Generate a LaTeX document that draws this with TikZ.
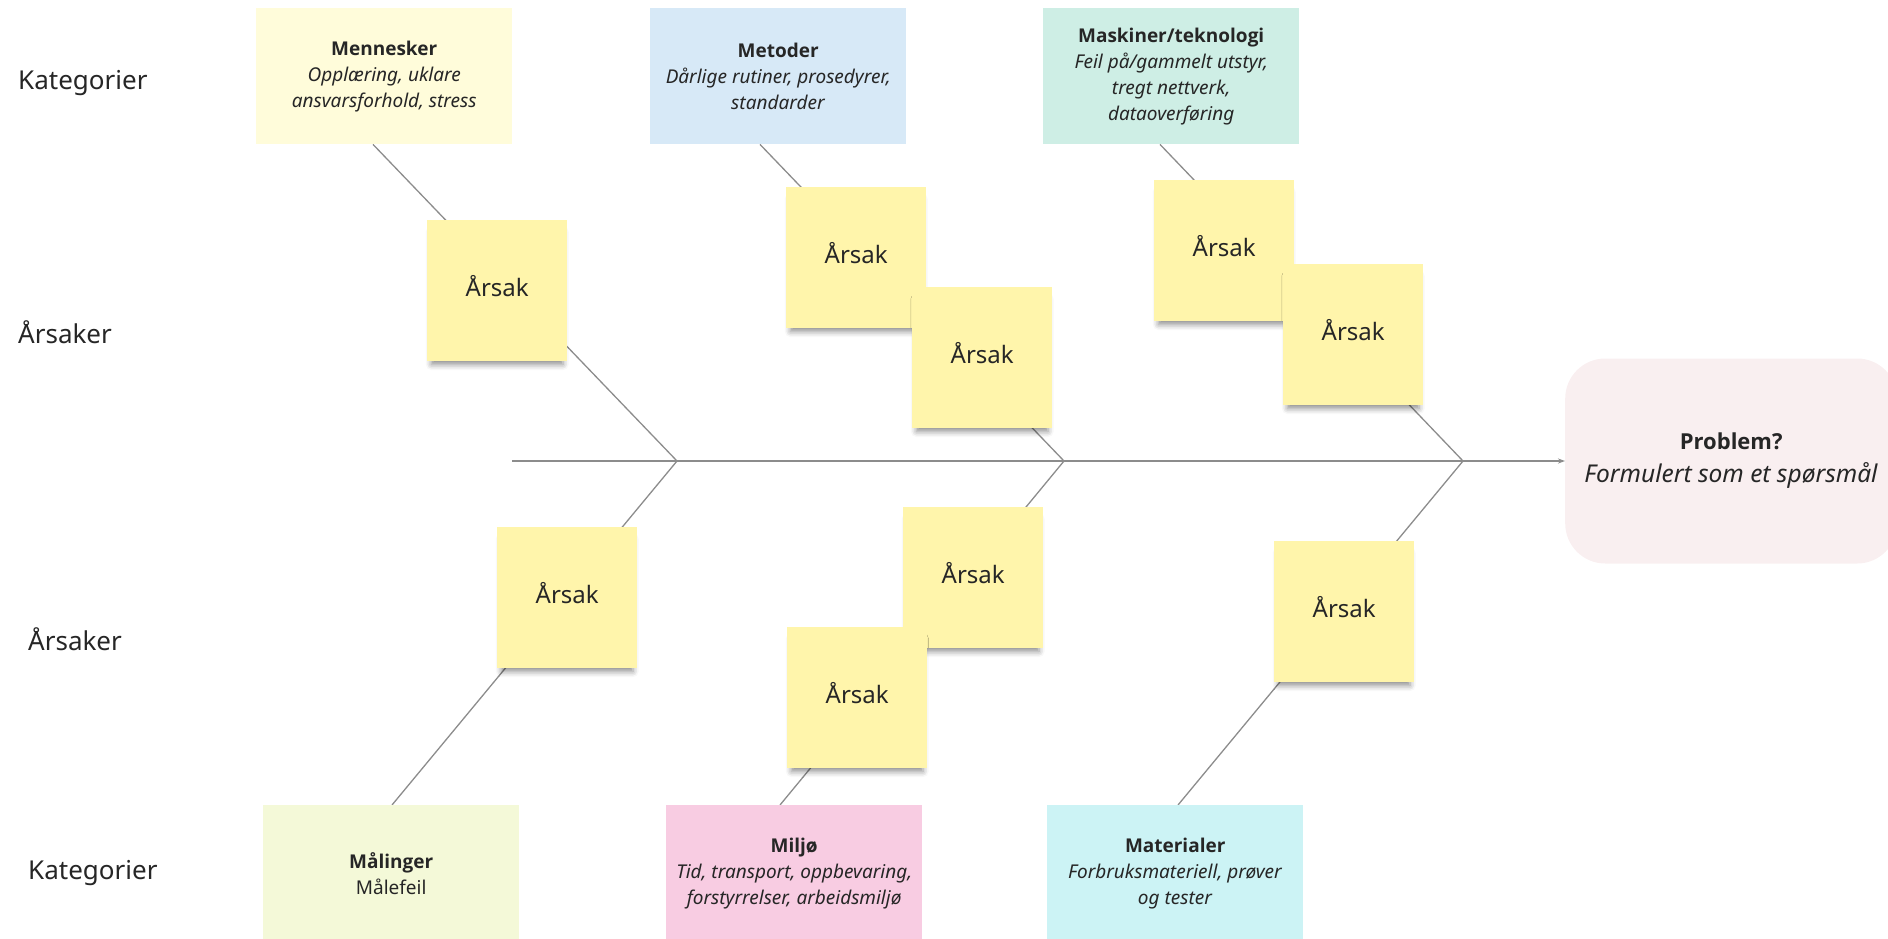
\documentclass[tikz,border=0pt]{standalone}
\usepackage{fontspec}
\setmainfont{Noto Sans}
\newfontfamily\boldfam{Open Sans}
\newcommand{\hd}[1]{{\boldfam\bfseries #1}}
\usetikzlibrary{shadows.blur,arrows.meta,calc}
\definecolor{txt}{HTML}{262626}
\definecolor{bone}{HTML}{8C8C8C}
\definecolor{stick}{HTML}{FFF5AB}
\definecolor{cMen}{HTML}{FFFCDA}
\definecolor{cMet}{HTML}{D7E9F7}
\definecolor{cMas}{HTML}{CEEEE5}
\definecolor{cMal}{HTML}{F4F9D8}
\definecolor{cMil}{HTML}{F8CCE2}
\definecolor{cMat}{HTML}{CCF3F5}
\definecolor{cProb}{HTML}{F9EFF0}
\pgfdeclarelayer{bg}
\pgfsetlayers{bg,main}
\tikzset{
  catbox/.style={anchor=north west, minimum width=256pt, minimum height=136pt, inner sep=0pt,
    align=center, text=txt, font=\fontsize{19}{26}\selectfont},
  sticky/.style={anchor=north west, minimum width=140pt, minimum height=141pt, inner sep=0pt,
    fill=stick, text=txt, font=\fontsize{24}{28}\selectfont, text depth=9pt,
    blur shadow={shadow xshift=0pt, shadow yshift=-8pt, shadow scale=0.94, shadow blur radius=6pt, shadow opacity=45}},
  sidelabel/.style={anchor=west, inner sep=0pt, text=txt, font=\fontsize{26}{30}\selectfont},
  bonestyle/.style={draw=bone, line width=1.3pt},
}
\begin{document}
\begin{tikzpicture}[x=1pt,y=-1pt]
\useasboundingbox (0,0) rectangle (1888,938);

% side labels
\node[sidelabel] (lk1) at (18,83) {Kategorier};
\node[sidelabel] (la1) at (18,332) {Årsaker};
\node[sidelabel] (la2) at (28,639) {Årsaker};
\node[sidelabel] (lk2) at (28,873) {Kategorier};

% junctions and spine start
\coordinate (S) at (512,461);
\coordinate (J1) at (677,461);
\coordinate (J2) at (1064,461);
\coordinate (J3) at (1463,461);

% problem
\node[anchor=west, minimum width=332pt, minimum height=205pt, fill=cProb, rounded corners=40pt,
  align=center, text=txt, inner sep=0pt, font=\fontsize{22}{33}\selectfont] (prob) at (1565,461)
  {\hd{Problem?}\\\fontsize{24.5}{33}\selectfont\textit{Formulert som et spørsmål}};

% stickies
\node[sticky] (s1) at (427,220) {Årsak};
\node[sticky] (s2) at (786,187) {Årsak};
\node[sticky] (s3) at (912,287) {Årsak};
\node[sticky] (s4) at (1154,180) {Årsak};
\node[sticky] (s5) at (1283,264) {Årsak};
\node[sticky] (s6) at (497,527) {Årsak};
\node[sticky] (s7) at (903,507) {Årsak};
\node[sticky] (s8) at (787,627) {Årsak};
\node[sticky] (s9) at (1274,541) {Årsak};

% category boxes
\node[catbox, fill=cMen] (men) at (256,8) {\hd{Mennesker}\\\textit{Opplæring, uklare}\\\textit{ansvarsforhold, stress}};
\node[catbox, fill=cMet] (met) at (650,8) {\hd{Metoder}\\\textit{Dårlige rutiner, prosedyrer,}\\\textit{standarder}};
\node[catbox, fill=cMas] (mas) at (1043,8) {\hd{Maskiner/teknologi}\\\textit{Feil på/gammelt utstyr,}\\\textit{tregt nettverk,}\\\textit{dataoverføring}};
\node[catbox, fill=cMal] (mal) at (263,805) {\hd{Målinger}\\Målefeil};
\node[catbox, fill=cMil] (mil) at (666,805) {\hd{Miljø}\\\textit{Tid, transport, oppbevaring,}\\\textit{forstyrrelser, arbeidsmiljø}};
\node[catbox, fill=cMat] (mat) at (1047,805) {\hd{Materialer}\\\textit{Forbruksmateriell, prøver}\\\textit{og tester}};

\begin{pgfonlayer}{bg}
  \draw[bonestyle, -{Stealth[length=7pt,width=5pt]}] (S) -- (prob.west);
  \draw[bonestyle] ($(men.south west)+(117,0)$) -- (J1);
  \draw[bonestyle] ($(met.south west)+(110,0)$) -- (J2);
  \draw[bonestyle] ($(mas.south west)+(117,0)$) -- (J3);
  \draw[bonestyle] ($(mal.north west)+(129,0)$) -- (J1);
  \draw[bonestyle] ($(mil.north west)+(114,0)$) -- (J2);
  \draw[bonestyle] ($(mat.north west)+(131,0)$) -- (J3);
\end{pgfonlayer}
\end{tikzpicture}
\end{document}
